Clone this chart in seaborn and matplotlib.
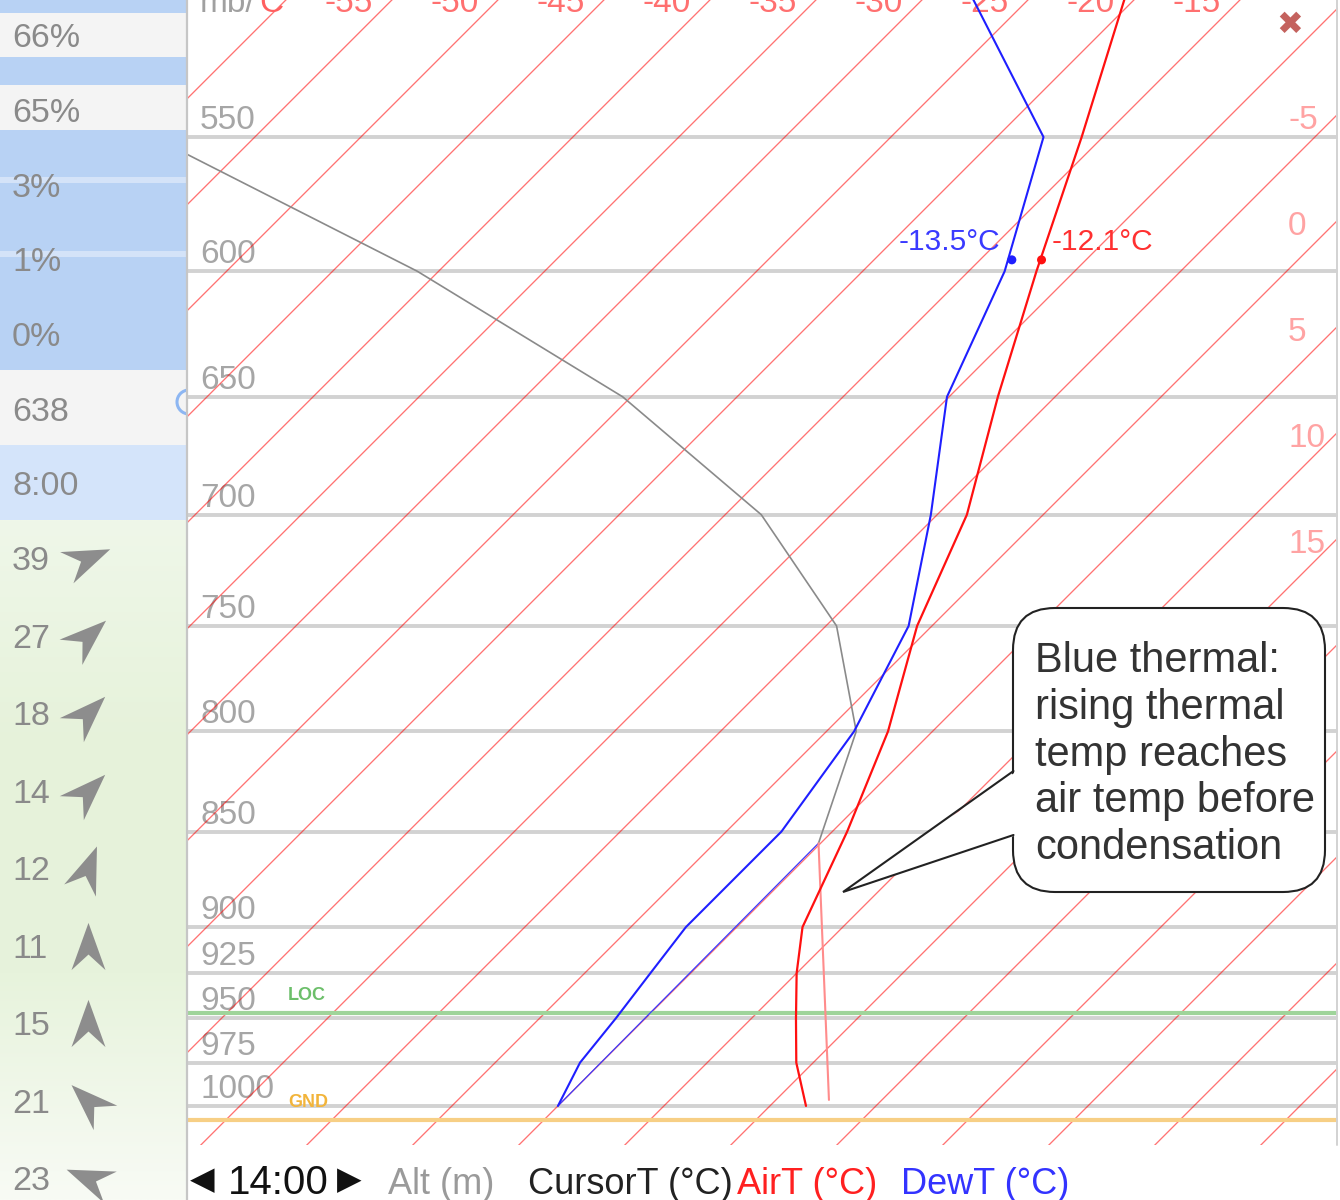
#!/usr/bin/env python3
# skew-T sounding panel: air / dew temperature against pressure, with side panel
import numpy as np
import matplotlib
matplotlib.use("Agg")
import matplotlib.pyplot as plt
import seaborn as sns
from matplotlib.markers import MarkerStyle
from matplotlib.path import Path
from matplotlib.transforms import Affine2D
from matplotlib.patches import Rectangle, FancyBboxPatch, Polygon, Circle
from matplotlib.colors import LinearSegmentedColormap

# ---- values ----
levels = [550, 600, 650, 700, 750, 800, 850, 900, 925, 950, 975, 1000]

prof_p = [500, 550, 600, 650, 700, 750, 800, 850, 900, 925, 950, 975, 1000]
air_t = [-20.7, -16.0, -11.8, -7.7, -3.6, -0.7, 2.9, 5.7, 8.1, 10.0, 12.1, 14.2, 16.7]
dew_t = [-28.1, -17.8, -13.3, -10.1, -5.3, -1.1, 1.3, 2.6, 2.6, 3.1, 3.6, 4.0, 5.0]

cursor_p = [550, 600, 650, 700, 750, 800, 856]
cursor_t = [-59.8, -41.0, -25.4, -13.3, -4.5, 1.4, 4.9]

thermal_p = [996.5, 856]
thermal_t = [17.5, 4.9]
thermal_dew_p = [1000, 856]
thermal_dew_t = [5.0, 4.9]

probe_p = 595.6
probe_air = -12.1
probe_dew = -13.5

loc_p = 947
gnd_p = 1008

top_iso = [-55, -50, -45, -40, -35, -30, -25, -20, -15]
side_iso = [-5, 0, 5, 10, 15, 20]

side_rows = ["66%", "65%", "3%", "1%", "0%", "638", "8:00"]
wind_speed = [39, 27, 18, 14, 12, 11, 15, 21, 23]
wind_heading = [23, 42, 45, 45, 69, 90, 90, 136, 158]   # deg ccw from east

callout = ["Blue thermal:", "rising thermal", "temp reaches",
           "air temp before", "condensation"]

# ---- style ----
sns.set_style("white")
plt.rcParams['font.family'] = ['Liberation Sans', 'DejaVu Sans']

W, H = 1340, 1200
SKEW = 0.009613          # degC of skew per metre of height
XMIN, XMAX = -11.43, 42.86
P_BOT, P_TOP = 1023.0, 502.5


def alt_of(p):
    p = np.clip(np.asarray(p, dtype=float), 1.0, None)
    return 44330.8 * (1.0 - (p / 1013.25) ** 0.190263)


def p_of(h):
    h = np.asarray(h, dtype=float)
    return 1013.25 * np.clip(1.0 - h / 44330.8, 1e-6, None) ** (1 / 0.190263)


def skew_x(t, p):
    return np.asarray(t, dtype=float) + SKEW * alt_of(p)


def rect(x0, y0, x1, y1):
    return [x0 / W, 1 - y1 / H, (x1 - x0) / W, (y1 - y0) / H]


def base(yc, fs):
    # baseline for a text whose cap centre sits at yc (pixels, y down)
    return yc + 0.358 * fs / 0.72


fig = plt.figure(figsize=(W / 100, H / 100), dpi=100)
fig.patch.set_facecolor('white')

back = fig.add_axes([0, 0, 1, 1], zorder=0)
ax = fig.add_axes(rect(187, 0, 1338, 1145), zorder=1)
front = fig.add_axes([0, 0, 1, 1], zorder=2)

# ---- left side panel ----
blue, off, pale = '#b8d2f4', '#f4f4f4', '#d4e4fa'
bands = [(0, 13, blue), (13, 57, off), (57, 85, blue), (85, 130, off),
         (130, 370, blue), (370, 445, off), (445, 520, pale)]
for y0, y1, c in bands:
    back.add_patch(Rectangle((0, y0), 187, y1 - y0, color=c, lw=0))
for ys in (180, 254):
    back.add_patch(Rectangle((0, ys - 3), 187, 6, color='white', alpha=0.4, lw=0))
green = LinearSegmentedColormap.from_list(
    'g', ['#eff7e9', '#e6f2da', '#e7f3dc', '#f8fbf5'])
back.imshow(np.linspace(0, 1, 256)[:, None], cmap=green,
            extent=(0, 187, 1200, 520), aspect='auto', origin='upper')
back.add_patch(Circle((189, 402), 12, fill=False, ec='#8db6f2', lw=2.2))

fs_side = 24.5
for i, lab in enumerate(side_rows):
    back.text(12, base(35 + 74.7 * i, fs_side), lab, fontsize=fs_side,
              color='#8a8a8a', va='baseline', ha='left')

arrow = Path([(0.5, 0), (-0.5, 0.36), (-0.17, 0), (-0.5, -0.36), (0.5, 0)],
             [Path.MOVETO, Path.LINETO, Path.LINETO, Path.LINETO, Path.CLOSEPOLY])
for j, (spd, hd) in enumerate(zip(wind_speed, wind_heading)):
    yc = 558 + 77.5 * j
    back.text(12, base(yc, fs_side), str(spd), fontsize=fs_side,
              color='#8a8a8a', va='baseline', ha='left')
    m = MarkerStyle(arrow, transform=Affine2D().rotate_deg(hd))
    back.scatter([88], [yc], marker=m, s=34 ** 2, color='#8d8d8d', linewidths=0)

# ---- bottom legend row ----
yl = 1181
back.text(190, yl, '\u25C0', fontsize=23, color='#111111', va='center', ha='left',
          family=['DejaVu Sans'])
back.text(228, base(yl - 1, 29), '14:00', fontsize=29, color='#111111',
          va='baseline', ha='left')
back.text(337, yl, '\u25B6', fontsize=23, color='#111111', va='center', ha='left',
          family=['DejaVu Sans'])
legend_items = [('Alt (m)', 388, '#9a9a9a'), ('CursorT (°C)', 528, '#222222'),
                ('AirT (°C)', 737, '#ff2020'), ('DewT (°C)', 901, '#3333ff')]
for txt, x0, c in legend_items:
    back.text(x0, base(yl, 26), txt, fontsize=26, color=c, va='baseline', ha='left')

back.set_xlim(0, W)
back.set_ylim(H, 0)
back.axis('off')

# ---- main skew-T axes ----
ax.set_facecolor('white')
ax.set_yscale('function', functions=(lambda p: -alt_of(p), lambda t: p_of(-t)))

for p in levels:
    ax.axhline(p, color='#d2d2d2', lw=2.8, zorder=1)
ax.axhline(loc_p, color='#9fd49a', lw=3.0, zorder=2.5)
ax.axhline(gnd_p, color='#f7cf85', lw=3.0, zorder=2.5)

iso_p = np.array([1045.0, 480.0])
for t in range(-80, 65, 5):
    ax.plot(skew_x(t, iso_p), iso_p, color='#ff0000', alpha=0.55, lw=0.95, zorder=2)

sns.lineplot(x=skew_x(cursor_t, cursor_p), y=cursor_p, sort=False, estimator=None,
             color='#8a8a8a', lw=1.2, ax=ax, zorder=4)
sns.lineplot(x=skew_x(thermal_dew_t, thermal_dew_p), y=thermal_dew_p, sort=False,
             estimator=None, color='#3b3bff', lw=0.9, ax=ax, zorder=4)
sns.lineplot(x=skew_x(thermal_t, thermal_p), y=thermal_p, sort=False, estimator=None,
             color='#ff8c8c', lw=1.5, ax=ax, zorder=4)
sns.lineplot(x=skew_x(dew_t, prof_p), y=prof_p, sort=False, estimator=None,
             color='#1f1fff', lw=1.5, ax=ax, zorder=5)
sns.lineplot(x=skew_x(air_t, prof_p), y=prof_p, sort=False, estimator=None,
             color='#ff1010', lw=1.6, ax=ax, zorder=5)

sns.scatterplot(x=skew_x([probe_dew], [probe_p]), y=[probe_p], color='#1f1fff',
                s=42, edgecolor='none', ax=ax, zorder=6)
sns.scatterplot(x=skew_x([probe_air], [probe_p]), y=[probe_p], color='#ff1010',
                s=42, edgecolor='none', ax=ax, zorder=6)
ax.annotate(f"{probe_dew}°C", xy=(float(skew_x(probe_dew, probe_p)), probe_p),
            xytext=(-12, 10), textcoords='offset pixels', ha='right', va='baseline',
            fontsize=21.5, color='#3a3aff', zorder=7)
ax.annotate(f"{probe_air}°C", xy=(float(skew_x(probe_air, probe_p)), probe_p),
            xytext=(10, 10), textcoords='offset pixels', ha='left', va='baseline',
            fontsize=21.5, color='#ff3030', zorder=7)

ytr = ax.get_yaxis_transform()
for p in levels:
    ax.annotate(str(p), xy=(0.0113, p), xycoords=ytr, xytext=(0, 8),
                textcoords='offset pixels', ha='left', va='baseline',
                fontsize=24, color='#a6a6a6', zorder=1.5)
ax.annotate('LOC', xy=(0.0877, loc_p), xycoords=ytr, xytext=(0, 13),
            textcoords='offset pixels', ha='left', va='baseline', fontsize=13,
            fontweight='bold', color='#6cbf6a', zorder=3)
ax.annotate('GND', xy=(0.0877, gnd_p), xycoords=ytr, xytext=(0, 13),
            textcoords='offset pixels', ha='left', va='baseline', fontsize=13,
            fontweight='bold', color='#f2b43a', zorder=3)

ax.set_xlim(XMIN, XMAX)
ax.set_ylim(P_BOT, P_TOP)
ax.set_xticks([])
ax.set_yticks([])
ax.set_xlabel('')
ax.set_ylabel('')
for s in ax.spines.values():
    s.set_visible(False)

# isotherm labels along the top and right edges (the top row is cut by the frame)
t_top = alt_of(P_TOP)
for t in top_iso:
    ax.annotate(str(t), xy=(t + SKEW * t_top - 2.03, 1), xycoords=('data', 'axes fraction'),
                xytext=(0, -12), textcoords='offset pixels', ha='center',
                va='baseline', fontsize=24, color='#ff7070', annotation_clip=False)
mb = ax.annotate('mb/', xy=(0.0113, 1), xycoords='axes fraction', xytext=(0, -12),
                 textcoords='offset pixels', ha='left', va='baseline', fontsize=24,
                 color='#a0a0a0')
ax.annotate('C', xy=(1, 0), xycoords=mb, xytext=(4, 0), textcoords='offset pixels',
            ha='left', va='bottom', fontsize=24, color='#ff6060')
for t in side_iso:
    p_edge = float(p_of((XMAX - t) / SKEW))
    ax.annotate(str(t), xy=(0.9566, p_edge), xycoords=ytr, xytext=(0, -7),
                textcoords='offset pixels', ha='left', va='center', fontsize=24,
                color='#ffa3a3', zorder=3)

# ---- front overlay: borders, close icon, callout ----
front.plot([187, 187], [0, H], color='#c6c6c6', lw=1.6)
front.plot([1337, 1337], [0, 1145], color='#d2d2d2', lw=1.4)
front.text(1290, 25, '\u2716', fontsize=23, color='#c4625e', ha='center', va='center',
           family=['DejaVu Sans'])

front.add_patch(FancyBboxPatch((1013, 608), 312, 284,
                               boxstyle='round,pad=0,rounding_size=42',
                               fc='white', ec='#222222', lw=1.5, zorder=5))
front.add_patch(Polygon([(1017, 771), (843, 892), (1017, 835)], closed=True,
                        fc='white', ec='none', zorder=6))
front.plot([1013.5, 843, 1013.5], [771, 892, 835], color='#222222', lw=1.5,
           zorder=7, solid_joinstyle='miter')
for i, line in enumerate(callout):
    front.text(1035, 672 + 46.8 * i, line, fontsize=30, color='#333333',
               ha='left', va='baseline', zorder=8)

front.set_xlim(0, W)
front.set_ylim(H, 0)
front.axis('off')

fig.savefig('out.png', dpi=100, facecolor='white')
